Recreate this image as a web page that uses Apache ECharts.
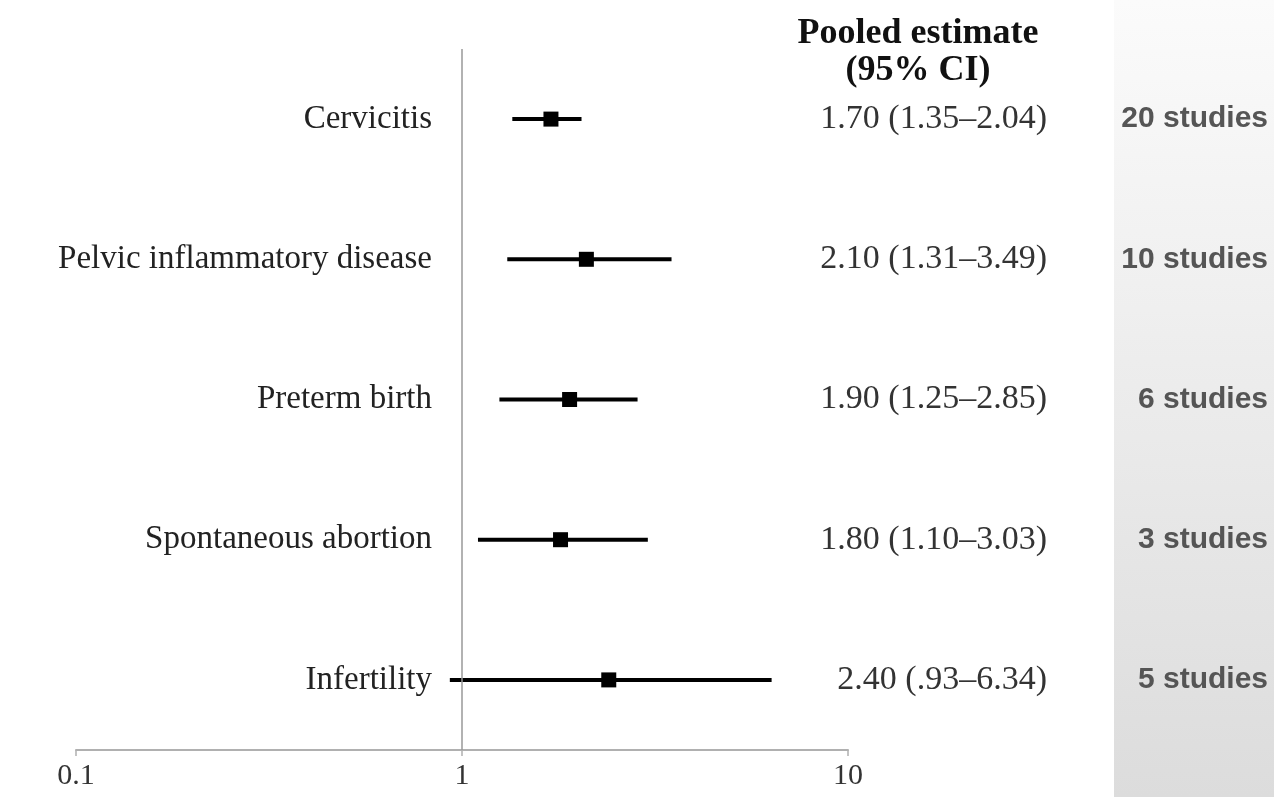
<!DOCTYPE html>
<html><head><meta charset="utf-8">
<script src="https://cdn.jsdelivr.net/npm/echarts@6/dist/echarts.min.js"></script>
<style>html,body{margin:0;padding:0;background:#fff}#c{width:1274px;height:797px}</style>
</head><body><div id="c"></div>
<script>
const categories = ['Cervicitis','Pelvic inflammatory disease','Preterm birth','Spontaneous abortion','Infertility'];
const estimates = [1.70, 2.10, 1.90, 1.80, 2.40];
const lowerCI = [1.35, 1.31, 1.25, 1.10, 0.93];
const upperCI = [2.04, 3.49, 2.85, 3.03, 6.34];
const estimateLabels = ['1.70 (1.35\u20132.04)','2.10 (1.31\u20133.49)','1.90 (1.25\u20132.85)','1.80 (1.10\u20133.03)','2.40 (.93\u20136.34)'];
const studyLabels = ['20 studies','10 studies','6 studies','3 studies','5 studies'];
const xTicks = {0.1:'0.1', 1:'1', 10:'10'};

const chart = echarts.init(document.getElementById('c'));
const serif = '"Liberation Serif", "Times New Roman", serif';
chart.setOption({
  animation: false,
  grid: {left: 76, right: 426, top: 49, bottom: 47},
  graphic: [
    {type:'rect', z:-10, shape:{x:1114,y:0,width:160,height:797},
     style:{fill:new echarts.graphic.LinearGradient(0,0,0,1,[{offset:0,color:'#fbfbfb'},{offset:1,color:'#dcdcdc'}])}},
    {type:'text', x: 918, y: 15, style:{text:'Pooled estimate\n(95% CI)', fill:'#111', font:'bold 36px ' + serif, textAlign:'center', lineHeight:37}}
  ],
  xAxis: {
    type:'log', logBase:10, min:0.1, max:10,
    axisLine:{show:true, lineStyle:{color:'#b0b0b0', width:2}},
    axisTick:{show:true, length:6, lineStyle:{color:'#b0b0b0', width:1.5}},
    splitLine:{show:false},
    axisLabel:{color:'#333', fontFamily: serif, fontSize:30, margin:11, showMinLabel:true, showMaxLabel:true,
      formatter: v => xTicks[+(+v).toPrecision(3)] || ''}
  },
  yAxis: [
    {type:'category', data:categories, inverse:true, position:'left', offset:-356,
     axisLine:{show:false}, axisTick:{show:false}, splitLine:{show:false},
     axisLabel:{color:'#222', fontFamily:serif, fontSize:33, margin:0, align:'right'}},
    {type:'category', data:estimateLabels, inverse:true, position:'right', offset:199,
     axisLine:{show:false}, axisTick:{show:false},
     axisLabel:{color:'#333', fontFamily:serif, fontSize:34, margin:0, align:'right'}},
    {type:'category', data:studyLabels, inverse:true, position:'right', offset:420,
     axisLine:{show:false}, axisTick:{show:false},
     axisLabel:{color:'#555', fontFamily:'"Liberation Sans", Arial, sans-serif', fontWeight:'bold', fontSize:30, margin:0, align:'right'}}
  ],
  series: [
    {type:'custom', yAxisIndex:0,
     data: categories.map((c,i)=>[lowerCI[i], upperCI[i], i]),
     renderItem: (params, api) => {
       const a = api.coord([api.value(0), api.value(2)]);
       const b = api.coord([api.value(1), api.value(2)]);
       return {type:'line', shape:{x1:a[0],y1:a[1],x2:b[0],y2:b[1]}, style:{stroke:'#000', lineWidth:4}};
     },
     markLine:{silent:true, symbol:'none', label:{show:false},
       lineStyle:{color:'#999', width:1.5, type:'solid'}, data:[{xAxis:1}]},
     z:3},
    {type:'scatter', yAxisIndex:0, symbol:'rect', symbolSize:15, itemStyle:{color:'#000', opacity:1},
     data: categories.map((c,i)=>[estimates[i], i]), z:4}
  ]
});
</script></body></html>
